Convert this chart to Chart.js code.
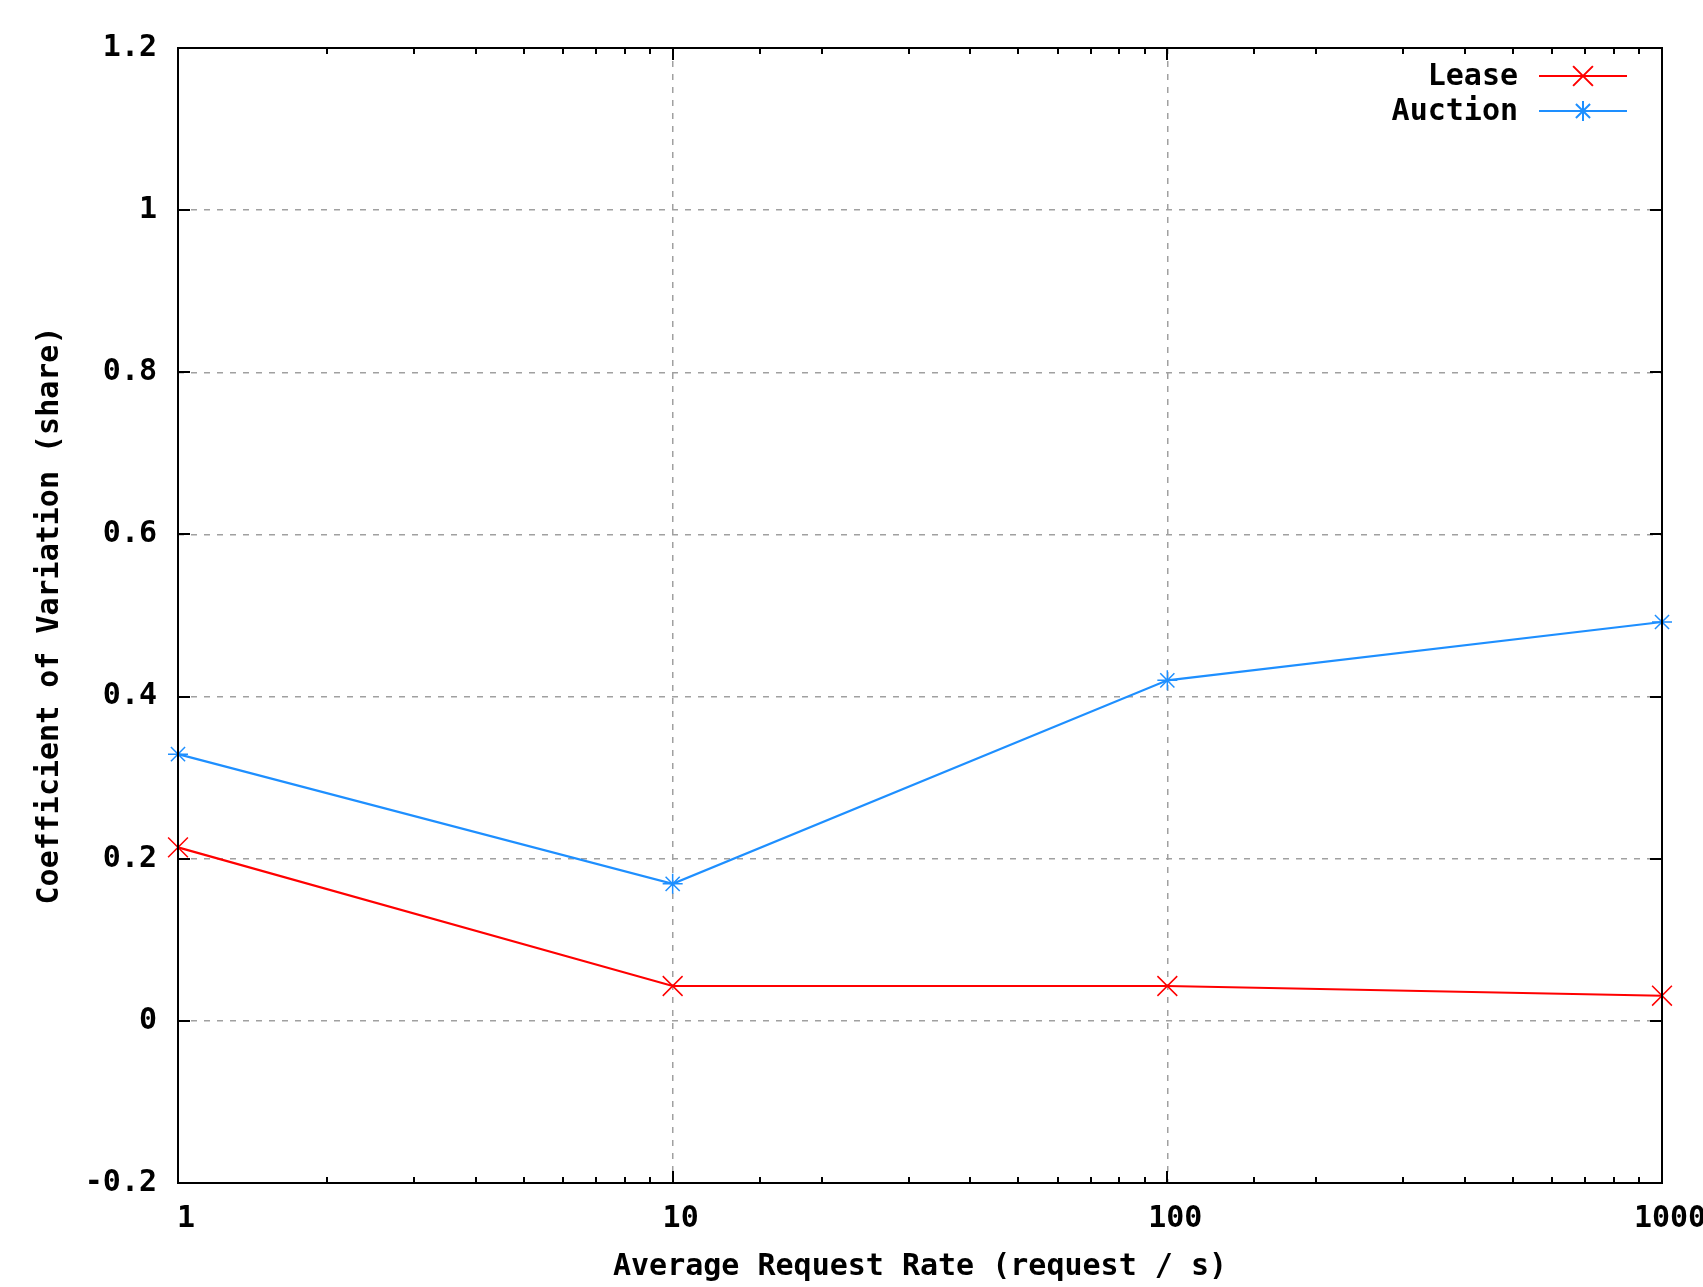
<!DOCTYPE html>
<html>
<head>
<meta charset="utf-8">
<script src="https://cdn.jsdelivr.net/npm/chart.js@4/dist/chart.umd.min.js"></script>
<style>
  html, body { margin: 0; padding: 0; background: #ffffff; }
  canvas { display: block; }
</style>
</head>
<body>
<canvas id="chart" width="1703" height="1287"></canvas>
<script>
// request rates (x, log scale)
const rates = [1, 10, 100, 1000];
const xTickLabels = [1, 10, 100, 1000];

// coefficient of variation per series
const leaseValues = [0.214, 0.043, 0.043, 0.031];
const auctionValues = [0.329, 0.169, 0.420, 0.492];

const yMin = -0.2;
const yMax = 1.2;
const yStep = 0.2;

const seriesNames = ['Lease', 'Auction'];
const seriesColors = ['#ff0000', '#1e8fff'];
const seriesPoints = ['crossRot', 'star'];

const fontFamily = '"DejaVu Sans Mono", "Liberation Mono", monospace';
const textFont = { family: fontFamily, size: 30, weight: 'bold' };

function toPoints(values) {
  return rates.map((r, i) => ({ x: r, y: values[i] }));
}

// frame, inside tick marks and the gnuplot style key
const gnuplotFrame = {
  id: 'gnuplotFrame',
  afterDatasetsDraw(chart) {
    const { ctx, chartArea } = chart;
    const xs = chart.scales.x;
    const ys = chart.scales.y;
    ctx.save();
    ctx.strokeStyle = '#000000';
    ctx.lineWidth = 2;
    ctx.beginPath();
    xs.ticks.forEach(t => {
      const px = Math.round(xs.getPixelForValue(t.value));
      if (px <= chartArea.left + 1 || px >= chartArea.right - 1) return;
      const len = xTickLabels.includes(t.value) ? 12 : 6;
      ctx.moveTo(px, chartArea.bottom);
      ctx.lineTo(px, chartArea.bottom - len);
      ctx.moveTo(px, chartArea.top);
      ctx.lineTo(px, chartArea.top + len);
    });
    ys.ticks.forEach(t => {
      const py = Math.round(ys.getPixelForValue(t.value));
      if (py <= chartArea.top + 1 || py >= chartArea.bottom - 1) return;
      ctx.moveTo(chartArea.left, py);
      ctx.lineTo(chartArea.left + 12, py);
      ctx.moveTo(chartArea.right, py);
      ctx.lineTo(chartArea.right - 12, py);
    });
    ctx.stroke();
    ctx.strokeRect(chartArea.left, chartArea.top, chartArea.right - chartArea.left, chartArea.bottom - chartArea.top);
    ctx.restore();
  },
  afterDraw(chart) {
    const { ctx, chartArea } = chart;
    ctx.save();
    ctx.font = 'bold 30px ' + fontFamily;
    ctx.textAlign = 'right';
    ctx.textBaseline = 'middle';
    chart.data.datasets.forEach((ds, i) => {
      const y = chartArea.top + 28 + i * 35;
      ctx.fillStyle = '#000000';
      ctx.fillText(ds.label, chartArea.right - 144, y + 1);
      ctx.strokeStyle = ds.borderColor;
      ctx.lineWidth = 2;
      ctx.beginPath();
      ctx.moveTo(chartArea.right - 123, y);
      ctx.lineTo(chartArea.right - 35, y);
      ctx.stroke();
      Chart.helpers.drawPoint(ctx, {
        pointStyle: ds.pointStyle,
        radius: ds.pointRadius,
        borderWidth: ds.pointBorderWidth,
        rotation: 0
      }, chartArea.right - 79, y);
    });
    ctx.restore();
  }
};

const ctx = document.getElementById('chart').getContext('2d');
const myChart = new Chart(ctx, {
  type: 'line',
  plugins: [gnuplotFrame],
  data: {
    datasets: [
      {
        label: seriesNames[0],
        data: toPoints(leaseValues),
        borderColor: seriesColors[0],
        backgroundColor: seriesColors[0],
        pointBorderColor: seriesColors[0],
        pointStyle: seriesPoints[0],
        pointRadius: 14,
        pointBorderWidth: 1.5,
        borderWidth: 2.2,
        tension: 0,
        clip: false,
      },
      {
        label: seriesNames[1],
        data: toPoints(auctionValues),
        borderColor: seriesColors[1],
        backgroundColor: seriesColors[1],
        pointBorderColor: seriesColors[1],
        pointStyle: seriesPoints[1],
        pointRadius: 10,
        pointBorderWidth: 1.5,
        borderWidth: 2.2,
        tension: 0,
        clip: false,
      },
    ],
  },
  options: {
    responsive: false,
    animation: false,
    devicePixelRatio: 1,
    layout: {
      padding: { top: 48, right: 41, left: 0, bottom: 0 }
    },
    plugins: {
      legend: { display: false },
      tooltip: { enabled: false },
    },
    scales: {
      x: {
        type: 'logarithmic',
        min: 1,
        max: 1000,
        afterFit: function(scale) {
          scale.height = 104;
          scale.paddingLeft = 0;
          scale.paddingRight = 0;
        },
        grid: {
          drawTicks: false,
          lineWidth: 1.5,
          color: function(context) {
            if (context.tick && xTickLabels.includes(context.tick.value)) return '#a0a0a0';
            return 'rgba(0,0,0,0)';
          },
        },
        border: { display: false, dash: [6, 7] },
        ticks: {
          autoSkip: false,
          maxRotation: 0,
          minRotation: 0,
          padding: 18,
          labelOffset: 8,
          color: '#000000',
          font: textFont,
          callback: function(value) {
            return xTickLabels.includes(value) ? String(value) : '';
          },
        },
        title: {
          display: true,
          text: 'Average Request Rate (request / s)',
          color: '#000000',
          font: textFont,
          padding: { top: 0, bottom: 2 },
        },
      },
      y: {
        type: 'linear',
        min: yMin,
        max: yMax,
        afterFit: function(scale) {
          scale.width = 178;
          scale.paddingTop = 0;
          scale.paddingBottom = 0;
        },
        grid: {
          drawTicks: false,
          lineWidth: 1.5,
          color: '#a0a0a0',
        },
        border: { display: false, dash: [6, 7] },
        ticks: {
          stepSize: yStep,
          padding: 21,
          color: '#000000',
          font: textFont,
          callback: function(value) {
            return String(parseFloat(value.toFixed(1)));
          },
        },
        title: {
          display: true,
          text: 'Coefficient of Variation (share)',
          color: '#000000',
          font: textFont,
          padding: { top: 32, bottom: 0 },
        },
      },
    },
  },
});
</script>
</body>
</html>
